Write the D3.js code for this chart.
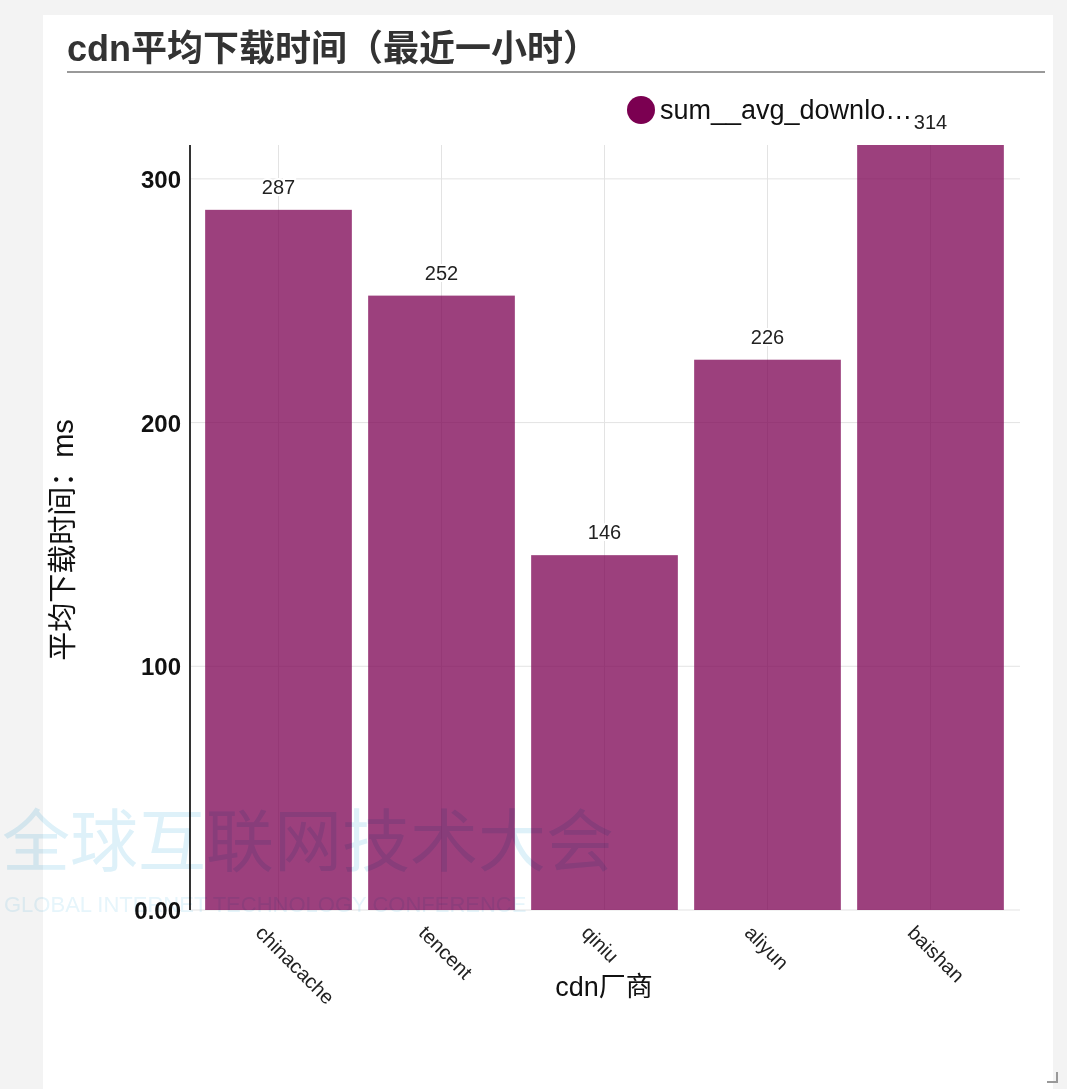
<!DOCTYPE html>
<html>
<head>
    <meta charset="utf-8">
    <script src="https://d3js.org/d3.v7.min.js"></script>
    <style>
        body { margin: 0; background: #f3f3f3; font-family: "Liberation Sans", "Noto Sans CJK SC", sans-serif; }
    </style>
</head>
<body>
    <script>
        var vendors = ["chinacache", "tencent", "qiniu", "aliyun", "baishan"];
        var avgTimes = [287.3, 252.1, 145.6, 225.8, 313.9];
        var yTicks = [0, 100, 200, 300];

        var svg = d3.select("body").append("svg")
            .attr("width", 1067)
            .attr("height", 1089)
            .style("display", "block");

        // page frame
        svg.append("rect").attr("width", 1067).attr("height", 1089).attr("fill", "#f3f3f3");
        svg.append("rect").attr("x", 43).attr("y", 15).attr("width", 1010).attr("height", 1074).attr("fill", "#fff");

        svg.append("text")
            .attr("x", 67).attr("y", 61)
            .style("font-size", "36px").style("font-weight", "bold")
            .style("fill", "#333")
            .text("cdn平均下载时间（最近一小时）");
        svg.append("line")
            .attr("x1", 67).attr("x2", 1045).attr("y1", 72).attr("y2", 72)
            .style("stroke", "#999").style("stroke-width", 2);

        var x = d3.scaleBand().domain(vendors).range([197, 1012]).paddingInner(0.1).paddingOuter(0.05);
        var y = d3.scaleLinear().domain([0, d3.max(avgTimes)]).range([910, 145]);
        var fmt = d3.format(".3s");

        // grid
        svg.append("g").selectAll("line.h")
            .data(yTicks)
            .enter().append("line")
            .attr("x1", 190).attr("x2", 1020)
            .attr("y1", d => y(d)).attr("y2", d => y(d))
            .style("stroke", "#e3e3e3");
        svg.append("g").selectAll("line.v")
            .data(vendors)
            .enter().append("line")
            .attr("x1", d => x(d) + x.bandwidth() / 2).attr("x2", d => x(d) + x.bandwidth() / 2)
            .attr("y1", 145).attr("y2", 910)
            .style("stroke", "#e3e3e3");

        // bars
        svg.append("g").selectAll("rect")
            .data(avgTimes)
            .enter().append("rect")
            .attr("x", (d, i) => x(vendors[i]))
            .attr("width", x.bandwidth())
            .attr("y", d => y(d))
            .attr("height", d => 910 - y(d))
            .style("fill", "#7b0051")
            .style("fill-opacity", 0.75);

        // y axis
        svg.append("line")
            .attr("x1", 190).attr("x2", 190).attr("y1", 145).attr("y2", 910)
            .style("stroke", "#333").style("stroke-width", 2);
        svg.append("g").selectAll("text")
            .data(yTicks)
            .enter().append("text")
            .attr("x", 181).attr("y", d => y(d) + 9)
            .attr("text-anchor", "end")
            .style("font-size", "24px").style("font-weight", "bold")
            .style("fill", "#111")
            .text(d => fmt(d));
        svg.append("text")
            .attr("transform", "translate(73,540) rotate(-90)")
            .attr("text-anchor", "middle")
            .style("font-size", "29px").style("fill", "#111")
            .text("平均下载时间：ms");

        // x axis
        svg.append("g").selectAll("text")
            .data(vendors)
            .enter().append("text")
            .attr("transform", d => "translate(" + (x(d) + x.bandwidth() / 2 - 24) + ",934) rotate(45)")
            .style("font-size", "20px").style("fill", "#222")
            .text(d => d);
        svg.append("text")
            .attr("x", 604).attr("y", 996)
            .attr("text-anchor", "middle")
            .style("font-size", "27px").style("fill", "#111")
            .text("cdn厂商");

        // legend (the last value label sits over its tail, as in the source)
        svg.append("circle").attr("cx", 641).attr("cy", 110).attr("r", 14).style("fill", "#7b0051");
        svg.append("text")
            .attr("x", 660).attr("y", 119)
            .style("font-size", "27px").style("fill", "#111")
            .text("sum__avg_downlo…");

        // value labels
        svg.append("g").selectAll("text")
            .data(avgTimes)
            .enter().append("text")
            .attr("x", (d, i) => x(vendors[i]) + x.bandwidth() / 2)
            .attr("y", d => y(d) - 16)
            .attr("text-anchor", "middle")
            .style("font-size", "20px")
            .style("fill", "#222")
            .style("stroke", "#fff").style("stroke-width", 4).style("paint-order", "stroke")
            .text(d => fmt(d));

        // conference watermark on top, multiplied
        var wm = svg.append("g").style("mix-blend-mode", "multiply").style("pointer-events", "none");
        wm.append("text")
            .attr("x", 2).attr("y", 866)
            .style("font-size", "68px").style("fill", "#def1f9")
            .text("全球互联网技术大会");
        wm.append("text")
            .attr("x", 4).attr("y", 912)
            .style("font-size", "22px").style("fill", "#e6f5fb")
            .text("GLOBAL INTERNET TECHNOLOGY CONFERENCE");

        // resize corner
        svg.append("path").attr("d", "M1047,1082 L1057,1082 L1057,1072").style("fill", "none").style("stroke", "#999").style("stroke-width", 2);
    </script>
</body>
</html>
